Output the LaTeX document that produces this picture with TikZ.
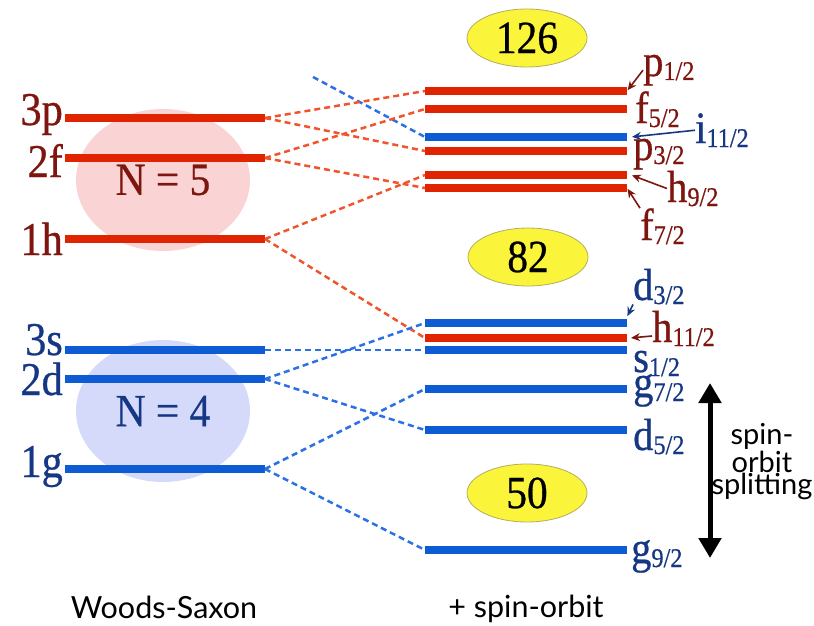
\documentclass[tikz,border=0pt]{standalone}
\usepackage{fontspec}
\setmainfont{Liberation Serif}[FakeStretch=0.9, FakeBold=0.6]
\newfontfamily\gillfont{Lato}
\usetikzlibrary{arrows.meta,shapes.geometric}

\definecolor{lvred}{RGB}{224,36,0}
\definecolor{lvblue}{RGB}{14,92,212}
\definecolor{dsred}{RGB}{240,84,44}
\definecolor{dsblue}{RGB}{44,112,230}
\definecolor{lbred}{RGB}{125,22,14}
\definecolor{lbblue}{RGB}{22,56,132}
\definecolor{shred}{RGB}{250,212,212}
\definecolor{shblue}{RGB}{214,218,250}
\definecolor{magic}{RGB}{250,244,58}
\definecolor{magicedge}{RGB}{180,172,96}

\newcommand\jsub[1]{\raisebox{-4pt}{\fontsize{27}{27}\selectfont #1}}

\begin{document}
\begin{tikzpicture}[x=1pt, y=-1pt,
    level/.style={line width=7.5pt},
    split/.style={dash pattern=on 6pt off 4pt, line width=2.5pt},
    shell/.style={ellipse, minimum width=174pt, minimum height=142pt, inner sep=0pt,
      font=\fontsize{46}{46}\selectfont},
    magicno/.style={ellipse, draw=magicedge, line width=0.8pt, fill=magic,
      minimum width=120pt, minimum height=58pt, inner sep=0pt,
      font=\fontsize{46}{46}\selectfont},
    wsname/.style={inner sep=0pt, anchor=base east, font=\fontsize{47}{47}\selectfont},
    soname/.style={inner sep=0pt, anchor=base west, font=\fontsize{45}{45}\selectfont},
    tag/.style={-{Stealth[length=9pt, width=8pt]}, line width=1.6pt, shorten >=1pt},
    caption/.style={font=\gillfont\fontsize{30.5}{30.5}\selectfont}]
  \useasboundingbox (0,0) rectangle (814,626);

  \node[shell, fill=shred, text=lbred] (n5) at (163,180) {N = 5};
  \node[shell, fill=shblue, text=lbblue] (n4) at (163,411) {N = 4};

  \node[magicno] (m126) at (527,38) {126};
  \node[magicno] (m82) at (528,257) {82};
  \node[magicno] (m50) at (527,493) {50};

  \draw[level, lvred] (65,118) coordinate (ws3p-l) -- (265,118) coordinate (ws3p-r);
  \draw[level, lvred] (65,158) coordinate (ws2f-l) -- (265,158) coordinate (ws2f-r);
  \draw[level, lvred] (65,239) coordinate (ws1h-l) -- (265,239) coordinate (ws1h-r);
  \draw[level, lvblue] (65,350) coordinate (ws3s-l) -- (265,350) coordinate (ws3s-r);
  \draw[level, lvblue] (65,379) coordinate (ws2d-l) -- (265,379) coordinate (ws2d-r);
  \draw[level, lvblue] (65,469) coordinate (ws1g-l) -- (265,469) coordinate (ws1g-r);

  \node[wsname, lbred] (l3p) at (63,125) {3p};
  \node[wsname, lbred] (l2f) at (63,177) {2f};
  \node[wsname, lbred] (l1h) at (63,255) {1h};
  \node[wsname, lbblue] (l3s) at (63,355) {3s};
  \node[wsname, lbblue] (l2d) at (63,395) {2d};
  \node[wsname, lbblue] (l1g) at (63,477) {1g};

  \draw[level, lvred] (425,91) coordinate (p12-l) -- (627,91) coordinate (p12-r);
  \draw[level, lvred] (425,109) coordinate (f52-l) -- (627,109) coordinate (f52-r);
  \draw[level, lvblue] (425,137) coordinate (i112-l) -- (627,137) coordinate (i112-r);
  \draw[level, lvred] (425,151) coordinate (p32-l) -- (627,151) coordinate (p32-r);
  \draw[level, lvred] (425,175) coordinate (h92-l) -- (627,175) coordinate (h92-r);
  \draw[level, lvred] (425,188) coordinate (f72-l) -- (627,188) coordinate (f72-r);
  \draw[level, lvblue] (425,323) coordinate (d32-l) -- (627,323) coordinate (d32-r);
  \draw[level, lvred] (425,338) coordinate (h112-l) -- (627,338) coordinate (h112-r);
  \draw[level, lvblue] (425,350) coordinate (s12-l) -- (627,350) coordinate (s12-r);
  \draw[level, lvblue] (425,389) coordinate (g72-l) -- (627,389) coordinate (g72-r);
  \draw[level, lvblue] (425,430) coordinate (d52-l) -- (627,430) coordinate (d52-r);
  \draw[level, lvblue] (425,550) coordinate (g92-l) -- (627,550) coordinate (g92-r);

  \coordinate (ws1i-r) at (313,77);
  \draw[split, dsblue] (ws1i-r) -- (i112-l);
  \draw[split, dsred] (ws3p-r) -- (p12-l);
  \draw[split, dsred] (ws3p-r) -- (p32-l);
  \draw[split, dsred] (ws2f-r) -- (f52-l);
  \draw[split, dsred] (ws2f-r) -- (f72-l);
  \draw[split, dsred] (ws1h-r) -- (h92-l);
  \draw[split, dsred] (ws1h-r) -- (h112-l);
  \draw[split, dsblue] (ws3s-r) -- (s12-l);
  \draw[split, dsblue] (ws2d-r) -- (d32-l);
  \draw[split, dsblue] (ws2d-r) -- (d52-l);
  \draw[split, dsblue] (ws1g-r) -- (g72-l);
  \draw[split, dsblue] (ws1g-r) -- (g92-l);

  \node[soname, lbred] (lp12) at (643,76) {p\jsub{1/2}};
  \node[soname, lbred] (lf52) at (635,123) {f\jsub{5/2}};
  \node[soname, lbblue] (li112) at (695,143) {i\jsub{11/2}};
  \node[soname, lbred] (lp32) at (633,160) {p\jsub{3/2}};
  \node[soname, lbred] (lh92) at (667,202) {h\jsub{9/2}};
  \node[soname, lbred] (lf72) at (640,240) {f\jsub{7/2}};
  \node[soname, lbblue] (ld32) at (633,300) {d\jsub{3/2}};
  \node[soname, lbred] (lh112) at (652,342) {h\jsub{11/2}};
  \node[soname, lbblue] (ls12) at (633,372) {s\jsub{1/2}};
  \node[soname, lbblue] (lg72) at (633,397) {g\jsub{7/2}};
  \node[soname, lbblue] (ld52) at (633,450) {d\jsub{5/2}};
  \node[soname, lbblue] (lg92) at (631,563) {g\jsub{9/2}};

  \draw[tag, lbred] (lp12.west) -- (p12-r);
  \draw[tag, lbblue] (li112.west) -- ([xshift=4pt]i112-r);
  \draw[tag, lbred] (lh92.west) -- ([xshift=4pt]h92-r);
  \draw[tag, lbred] (lf72.north west) -- (f72-r);
  \draw[tag, lbblue] (ld32.south west) -- ([yshift=6pt]d32-r);
  \draw[tag, lbred] ([yshift=6pt]lh112.base west) -- ([xshift=3pt]h112-r);

  \coordinate (gap-top) at (710,383);
  \coordinate (gap-bot) at (710,558);
  \draw[line width=5pt, {Triangle[width=22pt, length=20pt]}-{Triangle[width=22pt, length=20pt]}]
    (gap-top) -- (gap-bot);
  \node[font=\gillfont\fontsize{29}{15}\selectfont, align=center, inner sep=0pt] (gaptext)
    at (762,462) {spin-\\orbit\\splitting};

  \node[caption] (wscap) at (164,607) {Woods-Saxon};
  \node[caption] (socap) at (526,609) {+ spin-orbit};
\end{tikzpicture}
\end{document}
